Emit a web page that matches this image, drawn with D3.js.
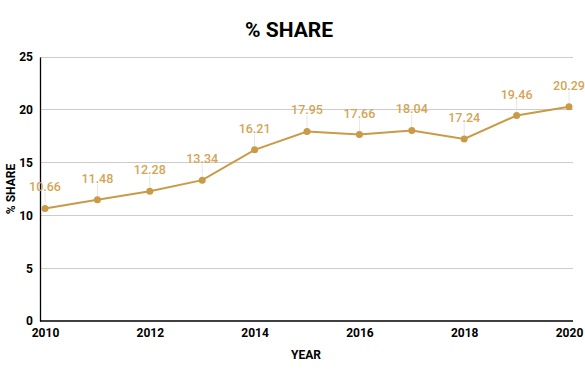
<!DOCTYPE html>
<html><head><meta charset="utf-8">
<script src="https://cdn.jsdelivr.net/npm/d3@7"></script>
<style>body{margin:0;background:#fff}svg{display:block}</style>
</head><body>
<script>
const years = [2010,2011,2012,2013,2014,2015,2016,2017,2018,2019,2020];
const share = [10.66,11.48,12.28,13.34,16.21,17.95,17.66,18.04,17.24,19.46,20.29];
const yTicks = [0,5,10,15,20,25];
const xTicks = [2010,2012,2014,2016,2018,2020];

(function(){
const W=585,H=371;
const svg=d3.select("body").append("svg").attr("width",W).attr("height",H);
const pl=40,pr=573,pt=57,pb=321;
const x=d3.scaleLinear().domain([2010,2020]).range([45,569]);
const y=d3.scaleLinear().domain([0,25]).range([pb,pt]);
const col="#c99b48";

svg.append("g").selectAll("line").data(yTicks.filter(d=>d>0)).join("line")
 .attr("x1",pl).attr("x2",pr).attr("y1",d=>y(d)).attr("y2",d=>y(d))
 .attr("stroke","#cccccc").attr("stroke-width",1).attr("shape-rendering","crispEdges");

const ya=svg.append("g").attr("transform",`translate(${pl},0)`)
 .call(d3.axisLeft(y).tickValues(yTicks).tickSize(0).tickPadding(7));
ya.select(".domain").attr("stroke","#000").attr("stroke-width",1.3);
ya.selectAll("text").attr("font-family","Roboto, Arial, sans-serif").attr("font-weight","bold").attr("font-size",12).attr("fill","#000");

const xa=svg.append("g").attr("transform",`translate(0,${pb})`)
 .call(d3.axisBottom(x).tickValues(xTicks).tickFormat(d3.format("d")).tickSize(0).tickPadding(7));
xa.select(".domain").attr("d",`M${pl},0H${pr}`).attr("stroke","#000").attr("stroke-width",1.3);
xa.selectAll("text").attr("font-family","Roboto, Arial, sans-serif").attr("font-weight","bold").attr("font-size",12).attr("fill","#000");

const pts=years.map((d,i)=>({yr:d,v:share[i]}));
svg.append("g").selectAll("line").data(pts).join("line")
 .attr("x1",d=>x(d.yr)).attr("x2",d=>x(d.yr)).attr("y1",d=>y(d.v)-3).attr("y2",d=>y(d.v)-16)
 .attr("stroke","#e6e6e6").attr("stroke-width",1);

svg.append("path").datum(pts).attr("fill","none").attr("stroke",col).attr("stroke-width",2)
 .attr("d",d3.line().x(d=>x(d.yr)).y(d=>y(d.v)));
svg.append("g").selectAll("circle").data(pts).join("circle")
 .attr("cx",d=>x(d.yr)).attr("cy",d=>y(d.v)).attr("r",3.5).attr("fill",col);

svg.append("g").selectAll("text").data(pts).join("text")
 .attr("x",d=>x(d.yr)).attr("y",d=>y(d.v)-17).attr("text-anchor","middle")
 .attr("font-family","Roboto, Arial, sans-serif").attr("font-weight","500").attr("font-size",12.5)
 .attr("fill","#d4a555").text(d=>d.v.toFixed(2));

svg.append("text").attr("x",289).attr("y",37).attr("text-anchor","middle")
 .attr("font-family","Roboto, Arial, sans-serif").attr("font-weight","bold").attr("font-size",21).text("% SHARE");
svg.append("text").attr("x",306).attr("y",359).attr("text-anchor","middle")
 .attr("font-family","Roboto, Arial, sans-serif").attr("font-weight","bold").attr("font-size",12).text("YEAR");
svg.append("text").attr("transform","translate(15,189) rotate(-90)").attr("text-anchor","middle")
 .attr("font-family","Roboto, Arial, sans-serif").attr("font-weight","bold").attr("font-size",12).text("% SHARE");
})();
</script>
</body></html>
